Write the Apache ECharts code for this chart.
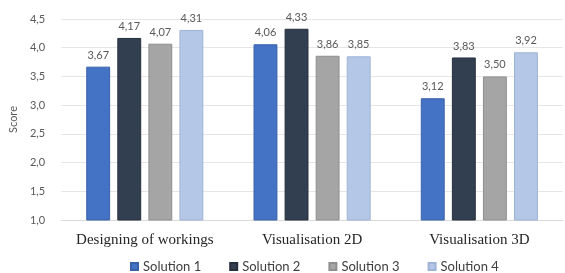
<!DOCTYPE html>
<html>
<head>
<meta charset="utf-8">
<script src="https://cdn.jsdelivr.net/npm/echarts@6/dist/echarts.min.js"></script>
<style>html,body{margin:0;padding:0;background:#fff}#c{width:565px;height:273px}</style>
</head>
<body>
<div id="c"></div>
<script>
const categories = ['Designing of workings', 'Visualisation 2D', 'Visualisation 3D'];
const seriesNames = ['Solution 1', 'Solution 2', 'Solution 3', 'Solution 4'];
const solution1 = [3.67, 4.06, 3.12];
const solution2 = [4.17, 4.33, 3.83];
const solution3 = [4.07, 3.86, 3.50];
const solution4 = [4.31, 3.85, 3.92];
const colors = ['#4472C4', '#323F50', '#A5A5A5', '#B4C7E7'];
const borders = ['#3A62A8', '#262F3D', '#8F8F8F', '#9FB3D6'];
const values = [solution1, solution2, solution3, solution4];

const fmt = v => v.toFixed(2).replace('.', ',');
const chart = echarts.init(document.getElementById('c'));
chart.setOption({
  animation: false,
  grid: { left: 60, right: 2, top: 19, bottom: 53 },
  legend: {
    data: seriesNames,
    top: 260,
    left: 130,
    padding: 0,
    icon: 'rect',
    itemWidth: 7,
    itemHeight: 7,
    itemGap: 28,
    textStyle: { fontFamily: 'Lato', fontSize: 13, color: '#404040' }
  },
  xAxis: {
    type: 'category',
    data: categories,
    axisLine: { lineStyle: { color: '#D9D9D9' } },
    axisTick: { show: false },
    axisLabel: { interval: 0, fontFamily: 'Liberation Serif', fontSize: 15, color: '#262626', margin: 13 }
  },
  yAxis: {
    type: 'value',
    min: 1,
    max: 4.5,
    interval: 0.5,
    name: 'Score',
    nameLocation: 'middle',
    nameGap: 41,
    nameTextStyle: { fontFamily: 'Lato', fontSize: 11, color: '#595959' },
    axisLine: { show: false },
    axisTick: { show: false },
    splitLine: { lineStyle: { color: '#E6E6E6' } },
    axisLabel: {
      fontFamily: 'Lato', fontSize: 11, color: '#595959', margin: 16,
      formatter: v => v.toFixed(1).replace('.', ',')
    }
  },
  series: values.map((d, i) => ({
    name: seriesNames[i],
    type: 'bar',
    data: d,
    barGap: '30%',
    barCategoryGap: '30%',
    itemStyle: { color: colors[i], borderColor: borders[i], borderWidth: 1 },
    label: {
      show: true, position: 'top', distance: 6,
      fontFamily: 'Lato', fontSize: 11, color: '#595959',
      formatter: p => fmt(p.value)
    }
  }))
});
</script>
</body>
</html>
